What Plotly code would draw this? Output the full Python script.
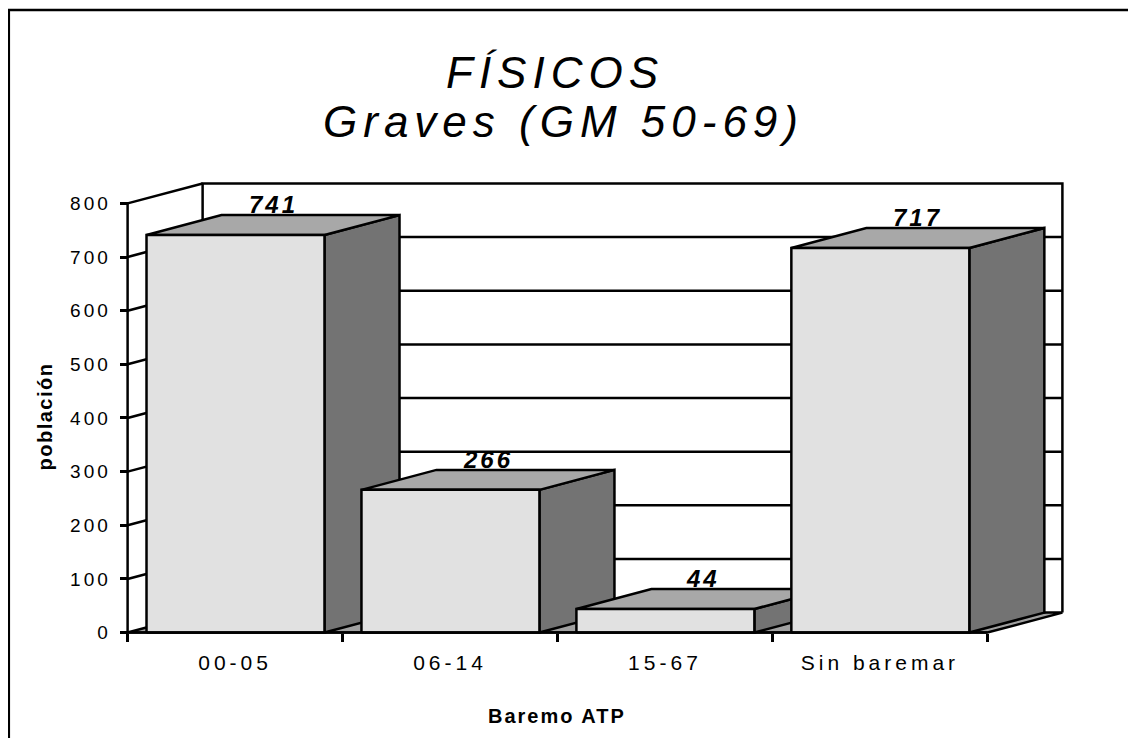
import plotly.graph_objects as go

# ---------------- data ----------------
categories = ["00-05", "06-14", "15-67", "Sin baremar"]
values = [741, 266, 44, 717]
y_tick_values = [0, 100, 200, 300, 400, 500, 600, 700, 800]
title_lines = ["FÍSICOS", "Graves (GM 50-69)"]
x_title = "Baremo ATP"
y_title = "población"

# ---------------- style / geometry ----------------
OFF = 8                      # page body margin compensation
W, H = 1136 - OFF, 738 - OFF
FONT = "Liberation Sans, Arial, Helvetica, sans-serif"
N = len(categories)
YMAX = 800
DX = 0.349      # depth offset in category units
DY = 37.2       # depth offset in value units
GAP = 0.088     # gap from category start to bar
BW = 0.828      # bar width in category units
X0PX, UX = 128 - OFF, 214.8       # pixel of x=0 and px per category
Y0PX, UY = 633 - OFF, 0.5375      # pixel of y=0 and px per value unit
PADX, PADY = 0.04, 12

xr = [-PADX, N + DX + PADX]
yr = [-PADY, YMAX + DY + PADY]
ml = X0PX + xr[0] * UX
pw = (xr[1] - xr[0]) * UX
mr = W - ml - pw
mb = H - (Y0PX - yr[0] * UY)
ph = (yr[1] - yr[0]) * UY
mt = H - mb - ph

def pxx(px):
    return (px - OFF - ml) / pw

def pxy(py):
    return (H - mb - (py - OFF)) / ph

LW = 2.5
C_FRONT, C_TOP, C_SIDE, C_FLOOR = "#E1E1E1", "#A8A8A8", "#737373", "#A0A0A0"

def ls(text, px):
    return f'<span style="letter-spacing:{px}px">{text}</span>'

fig = go.Figure()

def poly(xs, ys, fill=None, width=LW):
    kw = dict(x=xs, y=ys, mode="lines", line=dict(color="black", width=width),
              hoverinfo="skip", showlegend=False)
    if fill:
        kw.update(fill="toself", fillcolor=fill)
    fig.add_trace(go.Scatter(**kw))

# floor
poly([0, N, N + DX, DX, 0], [0, 0, DY, DY, 0], fill=C_FLOOR)
# back wall gridlines
gx, gy = [], []
for v in y_tick_values[1:-1]:
    gx += [DX, N + DX, None]
    gy += [v + DY, v + DY, None]
poly(gx, gy)
# left wall diagonals
lx, ly = [], []
for v in y_tick_values[1:]:
    lx += [0, DX, None]
    ly += [v, v + DY, None]
poly(lx, ly)
# wall outlines
poly([DX, DX, N + DX, N + DX], [DY, YMAX + DY, YMAX + DY, DY])

# bars
for i, v in enumerate(values):
    xl, xrr = i + GAP, i + GAP + BW
    poly([xrr, xrr + DX, xrr + DX, xrr, xrr], [0, DY, v + DY, v, 0], fill=C_SIDE)
    poly([xl, xrr, xrr + DX, xl + DX, xl], [v, v, v + DY, v + DY, v], fill=C_TOP)
    poly([xl, xrr, xrr, xl, xl], [0, 0, v, v, 0], fill=C_FRONT)

# front axis lines
poly([0, 0], [0, YMAX])
poly([0, N], [0, 0])

annotations = []
for i, v in enumerate(values):
    annotations.append(dict(
        x=i + GAP + BW / 2 + DX / 2, y=v + DY, xref="x", yref="y",
        text=ls(f"<b><i>{v}</i></b>", 3), showarrow=False,
        yanchor="bottom", xanchor="center", yshift=-5,
        font=dict(family=FONT, size=24, color="black")))

annotations.append(dict(x=pxx(555), y=pxy(72), xref="paper", yref="paper",
                        text=ls(f"<i>{title_lines[0]}</i>", 6), showarrow=False,
                        xanchor="center", yanchor="middle",
                        font=dict(family=FONT, size=44, color="black")))
annotations.append(dict(x=pxx(564), y=pxy(121), xref="paper", yref="paper",
                        text=ls(f"<i>{title_lines[1]}</i>", 6), showarrow=False,
                        xanchor="center", yanchor="middle",
                        font=dict(family=FONT, size=44, color="black")))
annotations.append(dict(x=2, y=pxy(717), xref="x", yref="paper",
                        text=ls(f"<b>{x_title}</b>", 2), showarrow=False,
                        xanchor="center", yanchor="middle",
                        font=dict(family=FONT, size=20, color="black")))
annotations.append(dict(x=pxx(45), y=pxy(417), xref="paper", yref="paper",
                        text=ls(f"<b>{y_title}</b>", 1.5), showarrow=False, textangle=-90,
                        xanchor="center", yanchor="middle",
                        font=dict(family=FONT, size=20, color="black")))

shapes = [dict(type="rect", xref="paper", yref="paper",
               x0=pxx(9.3), x1=pxx(1160), y0=pxy(9.3), y1=pxy(780),
               line=dict(color="black", width=2.5), fillcolor="rgba(0,0,0,0)")]

fig.update_layout(
    width=W, height=H,
    margin=dict(l=ml, r=mr, t=mt, b=mb, pad=0),
    paper_bgcolor="white", plot_bgcolor="white",
    showlegend=False,
    annotations=annotations,
    shapes=shapes,
    xaxis=dict(range=xr, showgrid=False, zeroline=False, showline=False,
               tickmode="array", tickvals=[i + 0.5 for i in range(N)],
               ticktext=[ls(c, 4) for c in categories],
               ticks="", ticklabelstandoff=15,
               tickfont=dict(family=FONT, size=21, color="black"),
               minor=dict(tickmode="array", tickvals=list(range(N + 1)),
                          ticks="outside", ticklen=8, tickwidth=2.5, tickcolor="black"),
               anchor="free", position=pxy(633), fixedrange=True, automargin=False),
    yaxis=dict(range=yr, showgrid=False, zeroline=False, showline=False,
               tickmode="array", tickvals=y_tick_values,
               ticktext=[ls(str(v), 3) for v in y_tick_values],
               ticks="outside", ticklen=8, tickwidth=2.5, tickcolor="black",
               ticklabelstandoff=5,
               tickfont=dict(family=FONT, size=19, color="black"),
               anchor="free", position=pxx(128), fixedrange=True, automargin=False),
)

fig.write_html("out.html")
